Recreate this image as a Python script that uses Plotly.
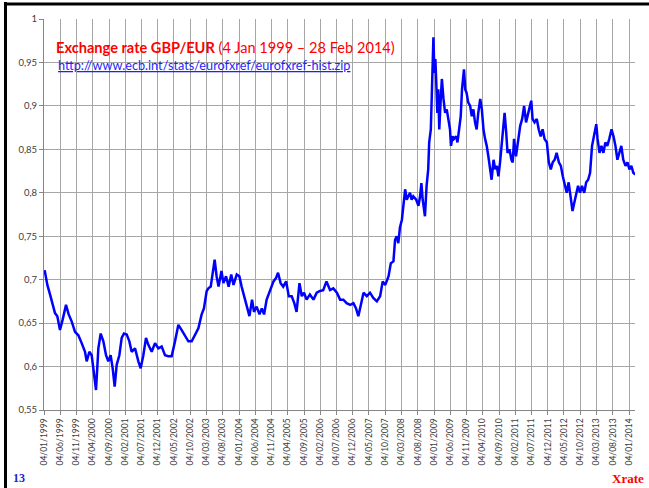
import pandas as pd
import plotly.graph_objects as go

# month offsets since 4 Jan 1999 and GBP/EUR values
months = [
    0.2, 1.03, 1.85, 2.67, 3.38, 4.1, 4.92, 5.74, 6.77, 7.59, 8.51, 9.54, 10.56, 11.59,
    12.62, 13.13, 13.95, 14.67, 15.18, 16.0, 16.72, 17.44, 18.26, 19.08, 19.79, 20.5,
    21.13, 21.74, 22.36, 23.18, 23.9, 24.6, 25.44, 26.26, 26.97, 28.0, 29.03, 29.74,
    30.56, 31.38, 32.1, 33.13, 34.15, 35.18, 36.2, 37.23, 38.26, 39.28, 40.31, 41.33,
    42.36, 43.38, 44.41, 45.44, 46.46, 47.49, 48.5, 49.2, 50.05, 50.56,
    51.3, 51.9, 52.5, 53.1, 53.7, 54.6, 55.2, 56.0, 56.8, 57.6, 58.3, 59.3, 60.1, 60.8,
    61.5, 62.4, 63.2, 64.0, 64.6, 65.4, 66.3, 67.0, 67.7, 68.5, 69.5, 70.6, 71.4, 72.0,
    72.8, 73.6, 74.5, 75.3, 76.2, 77.0, 77.7, 78.6, 79.3, 80.0, 80.8, 81.8, 82.9, 83.9,
    84.9, 85.9, 86.9, 88.0, 89.0, 90.1, 91.1, 92.1, 93.1, 94.2, 95.2, 96.0, 96.7, 97.4,
    98.3, 99.3, 100.3, 101.3, 102.4, 103.4, 104.2, 105.0, 106.0, 106.7, 107.5,
    108.0, 108.5, 109.0, 109.5, 110.1, 110.6, 111.1, 111.6, 112.1, 112.6, 113.1, 113.6,
    114.5, 115.2, 115.7, 116.1, 116.5, 117.2, 117.7, 118.2, 118.5, 119.0, 119.3, 119.6,
    119.8, 120.1, 120.4, 120.6, 121.0, 121.3, 121.6, 122.0, 122.4, 122.9, 123.4, 123.9,
    124.4, 124.9, 125.2, 125.7, 126.1, 126.8, 127.2, 127.8, 128.2, 128.6, 129.0, 129.2,
    129.6, 130.0, 130.5, 131.1, 131.6, 132.1, 132.6, 133.1, 133.6, 134.2, 134.7, 135.2,
    135.7, 136.2, 136.7, 137.2, 137.7, 138.3, 138.8, 139.3, 139.8, 140.3,
    140.8, 141.3, 141.7, 142.2, 142.6, 143.2, 143.8, 144.2, 144.6, 145.2, 145.9, 146.5,
    147.1, 147.7, 148.3, 148.9, 149.5, 149.9, 150.3, 150.9, 151.6, 152.2, 152.8, 153.4,
    154.0, 154.7, 155.3, 155.9, 156.5, 157.1, 157.7, 158.4, 159.0, 159.6, 160.2, 160.8,
    161.4, 162.0, 162.6, 163.1, 163.7, 164.3, 164.9, 165.5, 166.2, 166.8, 167.4, 168.0,
    168.6, 169.2, 169.9, 170.3, 170.9, 171.5, 172.1, 172.7, 173.3, 173.9, 174.6, 175.2,
    175.8, 176.4, 177.0, 177.6, 178.2, 178.9, 179.5, 180.1, 180.7, 181.3, 181.9,
]
rates = [
    0.711, 0.694, 0.683, 0.673, 0.6615, 0.658, 0.642, 0.654, 0.671, 0.660, 0.652, 0.640, 0.636, 0.627,
    0.617, 0.606, 0.617, 0.613, 0.598, 0.573, 0.621, 0.638, 0.629, 0.613, 0.606, 0.613,
    0.598, 0.577, 0.602, 0.613, 0.633, 0.638, 0.637, 0.629, 0.617, 0.621, 0.606, 0.598,
    0.613, 0.633, 0.625, 0.617, 0.627, 0.621, 0.623, 0.613, 0.612, 0.612, 0.629, 0.648,
    0.642, 0.635, 0.629, 0.629, 0.636, 0.644, 0.660, 0.667, 0.687, 0.690,
    0.692, 0.708, 0.723, 0.704, 0.692, 0.710, 0.696, 0.704, 0.692, 0.706, 0.694, 0.706, 0.704, 0.692,
    0.681, 0.669, 0.658, 0.677, 0.663, 0.669, 0.660, 0.667, 0.660, 0.677, 0.688, 0.698, 0.702, 0.708,
    0.696, 0.692, 0.698, 0.681, 0.681, 0.673, 0.663, 0.696, 0.681, 0.685, 0.677, 0.683, 0.677, 0.685,
    0.687, 0.688, 0.698, 0.688, 0.690, 0.685, 0.677, 0.677, 0.673, 0.671, 0.673, 0.667, 0.658, 0.671,
    0.685, 0.681, 0.685, 0.679, 0.675, 0.681, 0.698, 0.694, 0.704, 0.719, 0.721,
    0.746, 0.750, 0.742, 0.760, 0.769, 0.785, 0.804, 0.792, 0.796, 0.800, 0.792, 0.796,
    0.792, 0.785, 0.796, 0.811, 0.792, 0.773, 0.808, 0.827, 0.858, 0.873, 0.912, 0.950,
    0.979, 0.938, 0.954, 0.935, 0.892, 0.919, 0.873, 0.904, 0.931, 0.908, 0.892, 0.896,
    0.885, 0.873, 0.854, 0.865, 0.862, 0.865, 0.858, 0.873, 0.888, 0.919, 0.931, 0.942,
    0.919, 0.915, 0.904, 0.900, 0.888, 0.896, 0.881, 0.873, 0.892, 0.908, 0.896, 0.873,
    0.862, 0.854, 0.842, 0.827, 0.815, 0.838, 0.827, 0.831, 0.819, 0.835,
    0.854, 0.881, 0.892, 0.869, 0.846, 0.850, 0.838, 0.835, 0.862, 0.842, 0.862, 0.877,
    0.885, 0.900, 0.881, 0.892, 0.900, 0.906, 0.885, 0.881, 0.885, 0.873, 0.865, 0.873,
    0.862, 0.858, 0.835, 0.827, 0.835, 0.838, 0.846, 0.835, 0.831, 0.819, 0.808, 0.800,
    0.812, 0.792, 0.779, 0.788, 0.800, 0.808, 0.800, 0.808, 0.800, 0.812, 0.815, 0.823,
    0.854, 0.865, 0.879, 0.862, 0.846, 0.854, 0.846, 0.858, 0.854, 0.862, 0.873, 0.865,
    0.854, 0.838, 0.846, 0.854, 0.838, 0.831, 0.835, 0.827, 0.831, 0.823, 0.821,
]

start = pd.Timestamp("1999-01-04")
end = pd.Timestamp("2014-02-28")
dates = [start + pd.Timedelta(days=m * 30.4375) for m in months]

title_bold = "Exchange rate GBP/EUR"
title_rest = " (4 Jan 1999 \u2013 28 Feb 2014)"
source_url = "http://www.ecb.int/stats/eurofxref/eurofxref-hist.zip"

fig = go.Figure()
fig.add_trace(go.Scatter(x=dates, y=rates, mode="lines",
                         line=dict(color="#0000ff", width=2.5), hoverinfo="skip"))

L, R, T, B = 44, 14, 19, 78
W, H = 649, 488
pw, ph = W - L - R, H - T - B
def px(x):
    return (x - L) / pw
def py(y):
    return 1 - (y - T) / ph

fig.update_layout(
    width=W, height=H,
    margin=dict(l=L, r=R, t=T, b=B, autoexpand=False),
    paper_bgcolor="white", plot_bgcolor="white",
    showlegend=False,
    separators=", ",
    font=dict(family="Lato, Open Sans, sans-serif", color="#404040"),
)
fig.update_xaxes(
    type="date", range=[start, end],
    tick0="1999-01-04", dtick="M5", tickformat="%d/%m/%Y",
    tickangle=-90, tickfont=dict(size=8.5, color="#404040"),
    showgrid=True, gridcolor="#a6a6a6", gridwidth=1,
    showline=True, linecolor="#868686", linewidth=1,
    ticks="outside", ticklen=4, tickcolor="#868686",
    zeroline=False, automargin=False,
)
fig.update_yaxes(
    range=[0.55, 1.0], dtick=0.05, tick0=0.55,
    tickfont=dict(size=9.5, color="#404040"),
    showgrid=True, gridcolor="#a6a6a6", gridwidth=1,
    showline=True, linecolor="#868686", linewidth=1,
    ticks="outside", ticklen=4, tickcolor="#868686",
    zeroline=False, automargin=False,
)

# white box behind the title
fig.add_shape(type="rect", xref="paper", yref="paper",
              x0=px(47), x1=px(400), y0=py(80), y1=py(31),
              fillcolor="white", line=dict(width=0), layer="between")
# slide frame (left and top)
fig.add_shape(type="rect", xref="paper", yref="paper",
              x0=px(4), x1=px(7), y0=py(2), y1=py(488),
              fillcolor="black", line=dict(width=0), layer="above")
fig.add_shape(type="rect", xref="paper", yref="paper",
              x0=px(4), x1=px(649), y0=py(2.5), y1=py(5.5),
              fillcolor="black", line=dict(width=0), layer="above")

fig.add_annotation(xref="paper", yref="paper", x=px(54), y=py(47),
                   xanchor="left", yanchor="middle", showarrow=False,
                   text=f"<b>{title_bold}</b>{title_rest}",
                   font=dict(family="Lato, sans-serif", size=14.6, color="#ff0000"))
fig.add_annotation(xref="paper", yref="paper", x=px(56), y=py(65),
                   xanchor="left", yanchor="middle", showarrow=False,
                   text=f"<u>{source_url}</u>",
                   font=dict(family="Lato, sans-serif", size=12.7, color="#1f1fff"))
fig.add_annotation(xref="paper", yref="paper", x=px(11), y=py(478),
                   xanchor="left", yanchor="middle", showarrow=False,
                   text="<b>13</b>",
                   font=dict(family="Liberation Serif, serif", size=12, color="#1f1fcc"))
fig.add_annotation(xref="paper", yref="paper", x=px(646), y=py(478),
                   xanchor="right", yanchor="middle", showarrow=False,
                   text="<b>Xrate</b>",
                   font=dict(family="Liberation Serif, serif", size=13, color="#ff0000"))

fig.write_html("out.html", config=dict(displayModeBar=False),
               post_script="document.body.style.margin='0px';")
